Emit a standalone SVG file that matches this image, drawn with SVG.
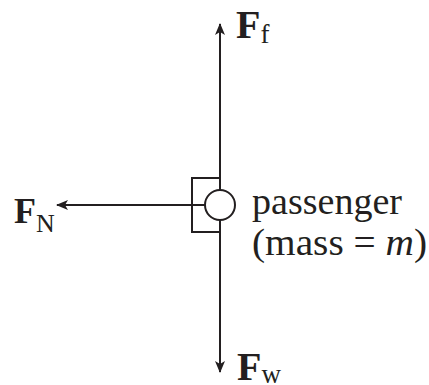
<svg xmlns="http://www.w3.org/2000/svg" width="429" height="385" viewBox="0 0 429 385">
<style>
.ln{stroke:#231f20;stroke-width:2;fill:none}
.t{font-family:'Liberation Serif','Times New Roman',serif;fill:#231f20}
.b{font-weight:bold}
</style>
<defs>
<marker id="ah" viewBox="0 0 12 10" refX="11" refY="5" markerWidth="12" markerHeight="10" markerUnits="userSpaceOnUse" orient="auto">
<path d="M0,0 L12,5 L0,10 L3,5 Z" fill="#231f20"/>
</marker>
</defs>
<g id="connectors">
<line class="ln" x1="220" y1="190" x2="220" y2="24" marker-end="url(#ah)"/>
<line class="ln" x1="220" y1="220" x2="220" y2="372" marker-end="url(#ah)"/>
<line class="ln" x1="205" y1="205" x2="57" y2="205" marker-end="url(#ah)"/>
</g>
<g id="passenger">
<polyline class="ln" points="220,178 192,178 192,232 220,232"/>
<circle class="ln" cx="220" cy="205" r="15" fill="#fff"/>
<text class="t" x="252" y="214" font-size="37" textLength="150" lengthAdjust="spacingAndGlyphs">passenger</text>
<text class="t" x="252" y="255" font-size="37" textLength="175" lengthAdjust="spacingAndGlyphs">(mass = <tspan font-style="italic">m</tspan>)</text>
</g>
<g id="Ff">
<text class="t" x="236" y="38"><tspan class="b" font-size="40">F</tspan><tspan font-size="27" dy="5">f</tspan></text>
</g>
<g id="FN">
<text class="t" x="14" y="223"><tspan class="b" font-size="36">F</tspan><tspan font-size="26" dy="9">N</tspan></text>
</g>
<g id="Fw">
<text class="t" x="237" y="380"><tspan class="b" font-size="40">F</tspan><tspan font-size="27" dy="3">w</tspan></text>
</g>
</svg>
